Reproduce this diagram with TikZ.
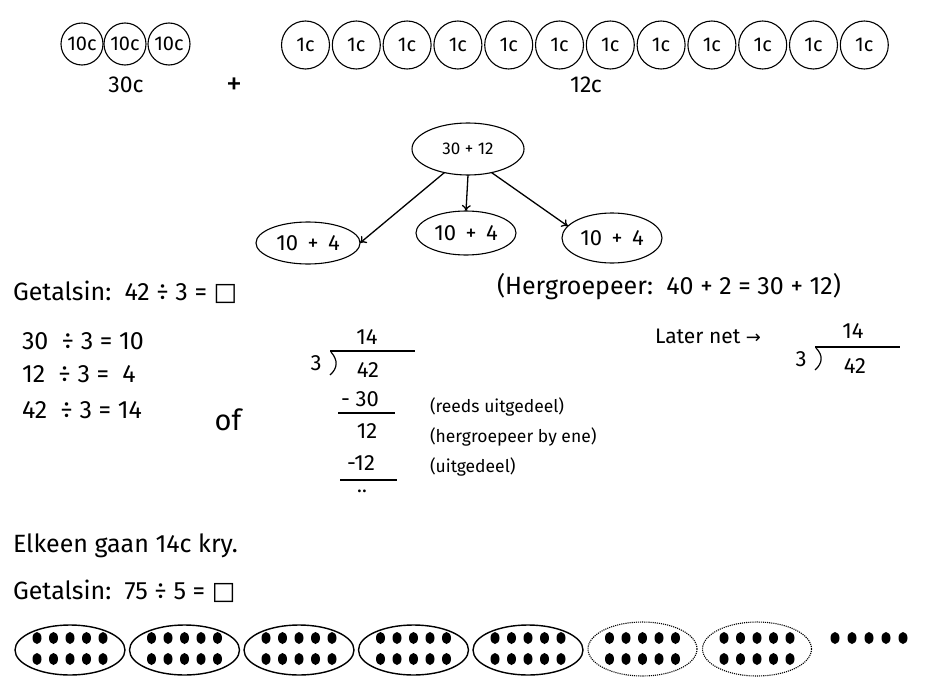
\documentclass[tikz,border=0pt]{standalone}
\usepackage{fontspec}
\setmainfont{Fira Sans}
\newfontfamily\dejavu{DejaVu Sans}
\usetikzlibrary{arrows.meta,shapes.geometric}
\begin{document}
\begin{tikzpicture}[x=1pt,y=-1pt,
  every node/.style={inner sep=0pt,outer sep=0pt},
  dime/.style={draw,line width=1.1pt,circle,minimum size=42pt,font=\fontsize{20}{20}\selectfont},
  penny/.style={draw,line width=1.1pt,circle,minimum size=48pt,font=\fontsize{20}{20}\selectfont},
  bubble/.style={draw,line width=1.1pt,ellipse},
  arr/.style={line width=1.3pt,-{To[length=6pt,width=9pt]}},
  big/.style={font=\fontsize{25}{25}\selectfont},
  mid/.style={font=\fontsize{22}{22}\selectfont},
  note/.style={font=\fontsize{17.5}{17.5}\selectfont},
  grp/.style={draw,line width=1.4pt,ellipse,minimum width=110pt,minimum height=50pt},
  grpdot/.style={draw,line width=1.1pt,densely dotted,ellipse,minimum width=109pt,minimum height=54pt},
  rule/.style={line width=1.2pt}
]
\useasboundingbox[fill=white] (0,0) rectangle (926,685);

% coins
\foreach \x [count=\i] in {82,125,169} \node[dime] (d\i) at (\x,44) {10c};
\foreach \i in {0,...,11} \node[penny] (p\i) at ({305.5+50.8*\i},45) {1c};
\node[font=\fontsize{23}{23}\selectfont] (t30) at (126,85) {30c};
\node[font=\fontsize{32}{32}\selectfont] (plus) at (234,86) {+};
\node[font=\fontsize{23}{23}\selectfont] (t12) at (586,85) {12c};

% tree
\node[bubble,minimum width=112pt,minimum height=52pt,font=\fontsize{17}{17}\selectfont] (top) at (468,149) {30 + 12};
\node[bubble,minimum width=104pt,minimum height=42pt,font=\fontsize{22}{22}\selectfont] (l) at (308,243) {10\,\ +\ \,4};
\node[bubble,minimum width=100pt,minimum height=44pt,font=\fontsize{22}{22}\selectfont] (m) at (466,233) {10\,\ +\ \,4};
\node[bubble,minimum width=100pt,minimum height=50pt,font=\fontsize{22}{22}\selectfont] (r) at (612,238) {10\,\ +\ \,4};
\draw[arr] (top.225) -- (l.east);
\draw[arr] (top.south) -- (m.north);
\draw[arr] (top.-45) -- (r.165);

% sentences
\node[big,anchor=west] (g1) at (13,292) {Getalsin:\ \ 42 ÷ 3 = {\dejavu □}};
\node[big,anchor=west] (her) at (497,287) {(Hergroepeer:\ \ 40 + 2 = 30 + 12)};

\node[big,anchor=west] (e1) at (22,341) {30\ \ ÷ 3 =\ 10};
\node[big,anchor=west] (e2) at (22,374) {12\ \ ÷ 3\ = \ 4};
\node[big,anchor=west] (e3) at (22,410) {42\ \ ÷ 3\ = 14};
\node[font=\fontsize{29}{29}\selectfont] (of) at (228,420) {of};

% long division
\node[mid] (q1) at (367,337) {14};
\draw[rule] (330,351) -- (415,351);
\draw[rule] (331,352) .. controls (338,360) and (338,368) .. (330,375);
\node[mid] (dv1) at (316,363) {3};
\node[mid] (n1) at (368,370) {42};
\node[mid] (s1) at (360,399) {- 30};
\draw[rule] (338,413) -- (395,413);
\node[mid] (r1) at (367,431) {12};
\node[mid] (s2) at (361,463) {-12};
\draw[rule] (340,480) -- (397,480);
\node[font=\fontsize{20}{20}\selectfont,anchor=base] (z1) at (362,492) {..};

\node[note,anchor=west] (n1a) at (430,407) {(reeds uitgedeel)};
\node[note,anchor=west] (n1b) at (430,437) {(hergroepeer by ene)};
\node[note,anchor=west] (n1c) at (430,467) {(uitgedeel)};

% later net
\node[font=\fontsize{21}{21}\selectfont,anchor=west] (ln) at (655,336) {Later net {\dejavu\fontsize{18}{18}\selectfont →}};
\node[mid] (q2) at (853,331) {14};
\draw[rule] (815,347) -- (900,347);
\draw[rule] (816,348) .. controls (823,355) and (823,363) .. (815,370);
\node[mid] (dv2) at (801,359) {3};
\node[mid] (n2) at (855,366) {42};

\node[big,anchor=west] (elk) at (13,546) {Elkeen gaan 14c kry.};
\node[big,anchor=west] (g2) at (13,591) {Getalsin:\ \ 75 ÷ 5 = {\dejavu □}};

% groups of dots
\foreach \i in {0,...,4} \node[grp] (b\i) at ({70+114.5*\i},650) {};
\foreach \i in {5,6} \node[grpdot] (b\i) at ({70+114.5*\i},649) {};
\foreach \i in {0,...,6} {
  \foreach \dx in {-33,-16.5,0,16.5,33} {
    \foreach \dy in {-11,10} {
      \fill ({70+114.5*\i+\dx},{649+\dy}) ellipse [x radius=4.5pt,y radius=6pt];
    }
  }
}
\foreach \x in {835,852,869,886,903} \fill (\x,638) ellipse [x radius=4.5pt,y radius=6pt];
\end{tikzpicture}
\end{document}
